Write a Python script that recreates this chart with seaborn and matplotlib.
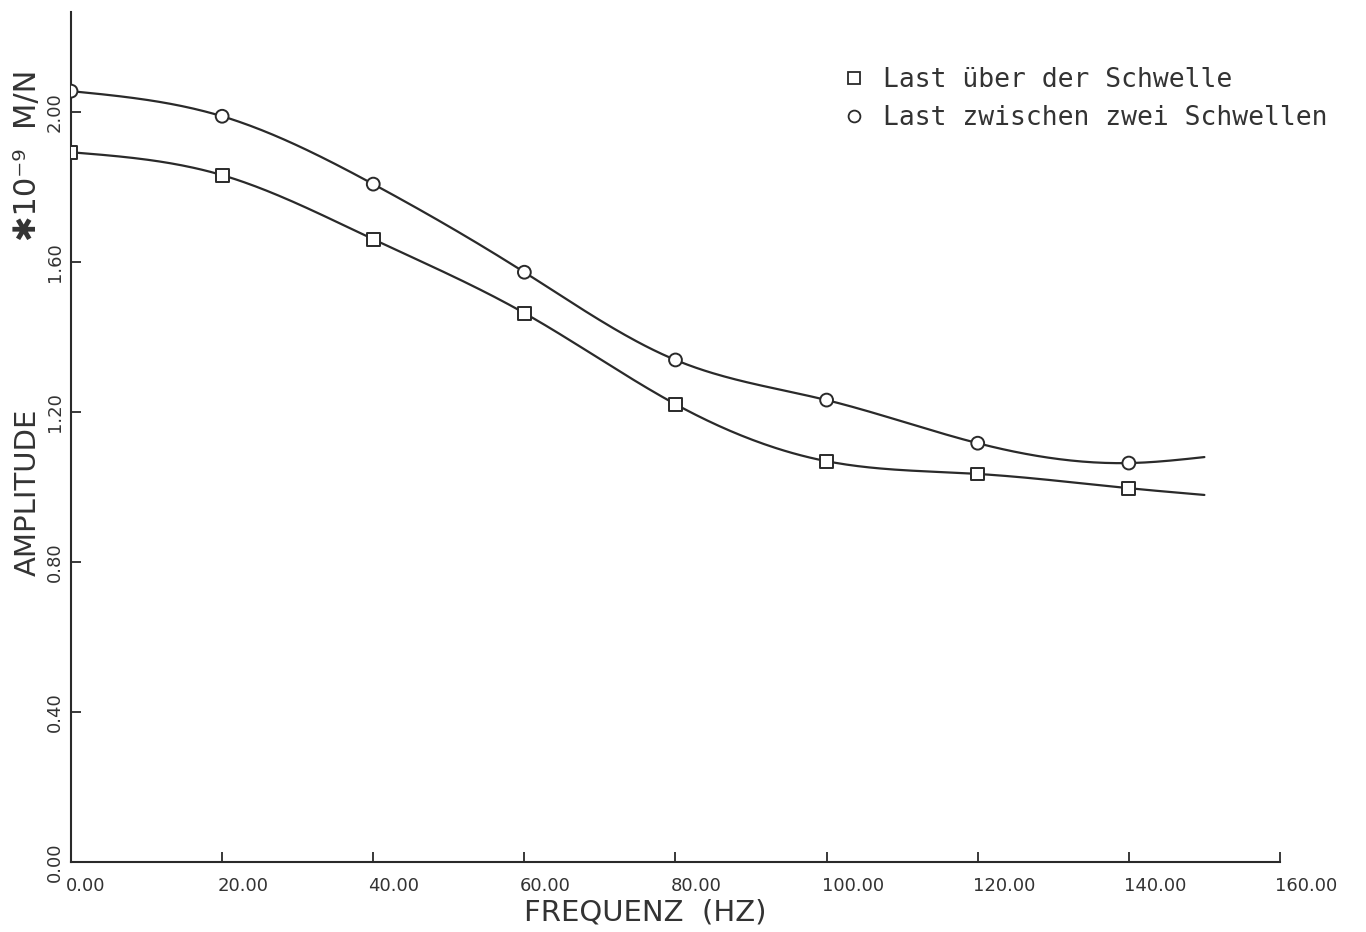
import numpy as np
import pandas as pd
import matplotlib
matplotlib.use("Agg")
import matplotlib.pyplot as plt
import matplotlib.transforms as mtransforms
from matplotlib.lines import Line2D
import seaborn as sns

# ---- data ----
freq = [0, 20, 40, 60, 80, 100, 120, 140]
amp_ueber = [1.893, 1.832, 1.661, 1.464, 1.221, 1.069, 1.035, 0.997]
amp_zwischen = [2.056, 1.989, 1.808, 1.573, 1.339, 1.232, 1.117, 1.064]
# curve end (no marker) at 150 Hz
end_freq = 150
end_ueber = 0.979
end_zwischen = 1.080

series_names = ["Last über der Schwelle", "Last zwischen zwei Schwellen"]
xticks = [0, 20, 40, 60, 80, 100, 120, 140, 160]
yticks = [0.0, 0.4, 0.8, 1.2, 1.6, 2.0]


def natural_spline(x, y, xs):
    x = np.asarray(x, float); y = np.asarray(y, float)
    n = len(x)
    h = np.diff(x)
    A = np.zeros((n, n)); b = np.zeros(n)
    A[0, 0] = A[-1, -1] = 1
    for i in range(1, n - 1):
        A[i, i - 1] = h[i - 1]
        A[i, i] = 2 * (h[i - 1] + h[i])
        A[i, i + 1] = h[i]
        b[i] = 3 * ((y[i + 1] - y[i]) / h[i] - (y[i] - y[i - 1]) / h[i - 1])
    c = np.linalg.solve(A, b)
    out = np.empty_like(xs)
    for k, xv in enumerate(xs):
        i = min(max(np.searchsorted(x, xv) - 1, 0), n - 2)
        d = xv - x[i]
        bi = (y[i + 1] - y[i]) / h[i] - h[i] * (2 * c[i] + c[i + 1]) / 3
        di = (c[i + 1] - c[i]) / (3 * h[i])
        out[k] = y[i] + bi * d + c[i] * d ** 2 + di * d ** 3
    return out


sns.set_theme(style="white")
plt.rcParams["font.family"] = ["DejaVu Sans"]

fig = plt.figure(figsize=(13.66, 9.32), dpi=100)
ax = fig.add_axes([0.052, 0.0751, 0.885, 0.912])

INK = "#2a2a2a"

# smooth curves
curve_frames = []
for name, vals, endv in [(series_names[0], amp_ueber, end_ueber),
                         (series_names[1], amp_zwischen, end_zwischen)]:
    xk = freq + [end_freq]
    yk = vals + [endv]
    xs = np.linspace(0, end_freq, 400)
    ys = natural_spline(xk, yk, xs)
    curve_frames.append(pd.DataFrame({"f": xs, "a": ys, "s": name}))
curves = pd.concat(curve_frames)
sns.lineplot(data=curves, x="f", y="a", units="s", estimator=None,
             color=INK, linewidth=1.6, ax=ax, legend=False)

# markers
pts = pd.DataFrame({
    "f": freq * 2,
    "a": amp_ueber + amp_zwischen,
    "s": [series_names[0]] * len(freq) + [series_names[1]] * len(freq),
})
sns.scatterplot(data=pts, x="f", y="a", style="s",
                markers={series_names[0]: "s", series_names[1]: "o"},
                s=85, facecolor="white", edgecolor=INK, linewidth=1.4,
                ax=ax, legend=False, zorder=3)

ax.set_xlim(0, 160)
ax.set_ylim(0, 2.267)
ax.set_xticks(xticks)
ax.set_yticks(yticks)
ax.set_xticklabels([f"{v:.2f}" for v in xticks], fontsize=13, color="#333333")
ax.set_yticklabels([f"{v:.2f}" for v in yticks], fontsize=13, color="#333333",
                   rotation=90, va="center")
ax.set_xlabel("")
ax.set_ylabel("")
for sp in ["top", "right"]:
    ax.spines[sp].set_visible(False)
for sp in ["left", "bottom"]:
    ax.spines[sp].set_color(INK)
    ax.spines[sp].set_linewidth(1.5)
ax.tick_params(axis="both", which="major", direction="in", length=7, width=1.3,
               color=INK, bottom=True, left=True, top=False, right=False)
ax.tick_params(axis="x", pad=11)
ax.tick_params(axis="y", pad=5)

off = mtransforms.ScaledTranslation(-5 / 100, 0, fig.dpi_scale_trans)
for lab in ax.get_xticklabels():
    lab.set_ha("left")
    lab.set_transform(lab.get_transform() + off)

fig.text(645 / 1366, 1 - 913 / 932, "FREQUENZ  (HZ)", ha="center", va="center",
         fontsize=21, color="#333333")
fig.text(28 / 1366, 1 - 492 / 932, "AMPLITUDE", ha="center", va="center",
         rotation=90, fontsize=21, color="#333333")
fig.text(28 / 1366, 1 - 155 / 932, "✱10⁻⁹  M/N", ha="center", va="center",
         rotation=90, fontsize=22, color="#333333")

handles = [Line2D([], [], linestyle="none", marker="s", markersize=8.5,
                  markerfacecolor="white", markeredgecolor=INK, markeredgewidth=1.3),
           Line2D([], [], linestyle="none", marker="o", markersize=8.5,
                  markerfacecolor="white", markeredgecolor=INK, markeredgewidth=1.3)]
leg = ax.legend(handles, series_names, loc="upper left",
                bbox_to_anchor=(843 / 1366, 1 - 67 / 932), bbox_transform=fig.transFigure,
                frameon=False, prop={"family": "DejaVu Sans Mono", "size": 19},
                handlelength=0.8, handletextpad=0.7, labelspacing=0.45,
                borderpad=0, borderaxespad=0, labelcolor="#333333")

fig.savefig("out.png", dpi=100, facecolor="white")
